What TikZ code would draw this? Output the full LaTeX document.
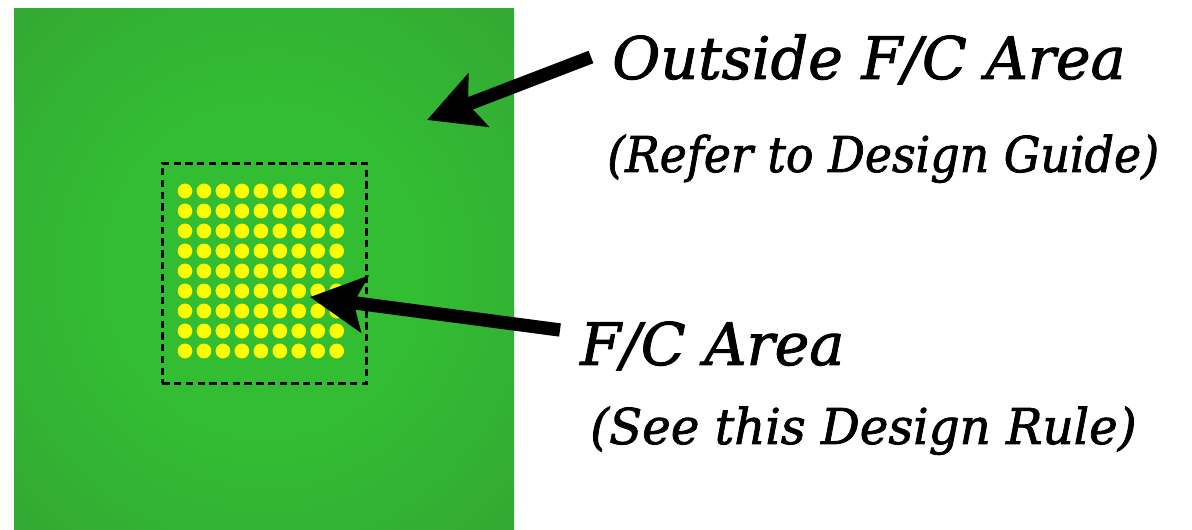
\documentclass[tikz,border=0pt]{standalone}
\usepackage{fontspec}
\usepackage{graphicx}
\setmainfont{DejaVu Serif}
\newfontfamily\lblfont{DejaVu Serif}[ItalicFeatures={FakeBold=1.6}]
\usetikzlibrary{arrows.meta}
\definecolor{gdark}{RGB}{51,153,51}
\definecolor{glight}{RGB}{51,189,51}
\definecolor{dotyellow}{RGB}{255,255,0}
\pgfdeclareradialshading{pcb}{\pgfpoint{0bp}{0bp}}{color(0bp)=(glight); color(16bp)=(glight); color(50bp)=(gdark); color(100bp)=(gdark)}
\tikzset{
  fcbox/.style={draw=black, line width=2pt, dash pattern=on 5.5pt off 3.3pt, inner sep=0pt, minimum width=153.3pt, minimum height=165pt},
  ball/.style={fill=dotyellow},
  bigarrow/.style={draw=black, line width=10pt, -{Stealth[length=41pt,width=42pt,inset=8pt]}},
  bigtext/.style={anchor=base west, inner sep=0pt, font=\lblfont\itshape\fontsize{44pt}{50pt}\selectfont},
  subtext/.style={anchor=base west, inner sep=0pt, font=\lblfont\itshape\fontsize{37pt}{44pt}\selectfont},
}
\begin{document}
\begin{tikzpicture}[x=0.75pt,y=-0.75pt]
\useasboundingbox (0,0) rectangle (1192,530);
\path[shading=pcb] (14,9) rectangle (514,530);
\node[fcbox] (fcbox) at (264.5,273.3) {};
\foreach \i in {0,...,8}{
  \foreach \j in {0,...,8}{
    \fill[ball] (185+18.96*\i,191+20*\j) ellipse [x radius=5.5pt, y radius=5.6pt];
  }
}
\node[bigtext] (outside) at (612,79) {Outside F/C Area};
\node[subtext] (refer) at (607,172) {\scalebox{0.93}[1]{(Refer to Design Guide)}};
\node[bigtext] (fcarea) at (580,365) {F/C Area};
\node[subtext] (seerule) at (590,444) {\scalebox{0.98}[1]{(See this Design Rule)}};
\coordinate (outTail) at (591,57);
\coordinate (outTip) at (427,120);
\coordinate (fcTail) at (560,330);
\coordinate (fcTip) at (310,297);
\draw[bigarrow] (outTail) -- (outTip);
\draw[bigarrow] (fcTail) -- (fcTip);
\end{tikzpicture}
\end{document}
